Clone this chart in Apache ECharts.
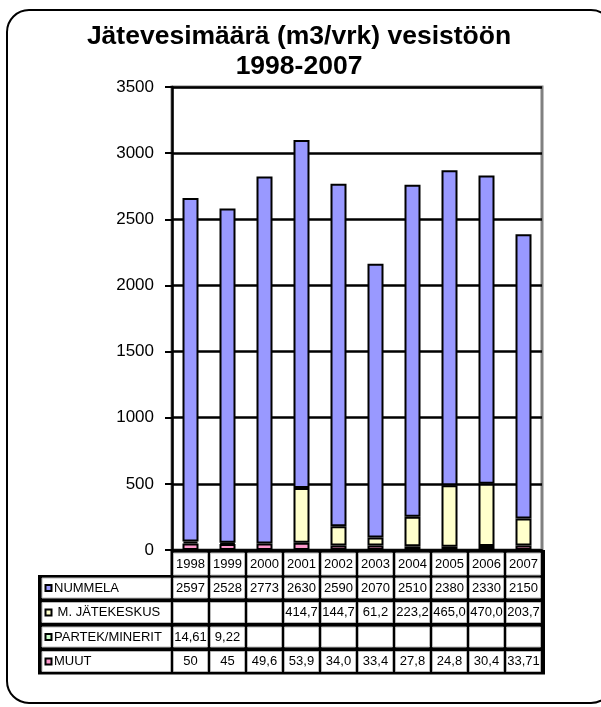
<!DOCTYPE html>
<html>
<head>
<meta charset="utf-8">
<script src="https://cdn.jsdelivr.net/npm/echarts@6/dist/echarts.min.js"></script>
<style>
html,body{margin:0;padding:0;background:#fff;}
#main{width:601px;height:707px;}
</style>
</head>
<body>
<div id="main"></div>
<script>
// ---- data (as shown in the data table) ----
const years = ['1998','1999','2000','2001','2002','2003','2004','2005','2006','2007'];
const nummelaText    = ['2597','2528','2773','2630','2590','2070','2510','2380','2330','2150'];
const jatekeskusText = ['','','','414,7','144,7','61,2','223,2','465,0','470,0','203,7'];
const partekText     = ['14,61','9,22','','','','','','','',''];
const muutText       = ['50','45','49,6','53,9','34,0','33,4','27,8','24,8','30,4','33,71'];
const yTicks = { min: 0, max: 3500, interval: 500 };
const seriesNames = ['NUMMELA', 'M. JÄTEKESKUS', 'PARTEK/MINERIT', 'MUUT'];
const colors = { 'NUMMELA': '#9999FF', 'M. JÄTEKESKUS': '#FFFFCC', 'PARTEK/MINERIT': '#CCFFCC', 'MUUT': '#FF99CC' };
const titleText = 'Jätevesimäärä (m3/vrk) vesistöön\n1998-2007';

const toNum = s => s === '' ? null : parseFloat(s.replace(',', '.'));
const rowsText = { 'NUMMELA': nummelaText, 'M. JÄTEKESKUS': jatekeskusText, 'PARTEK/MINERIT': partekText, 'MUUT': muutText };
const stackOrder = ['MUUT', 'PARTEK/MINERIT', 'M. JÄTEKESKUS', 'NUMMELA'];

const FONT = 'Liberation Sans, Arial, sans-serif';
const chart = echarts.init(document.getElementById('main'), null, { renderer: 'canvas' });

const option = {
  animation: false,
  backgroundColor: '#fff',
  title: {
    text: titleText, left: 299, top: 22, textAlign: 'center', padding: 0,
    textStyle: { fontFamily: FONT, fontSize: 26.5, fontWeight: 'bold', color: '#000', lineHeight: 30 }
  },
  grid: { left: 172, right: 59, top: 87, bottom: 157, show: true, borderColor: '#808080', borderWidth: 3, backgroundColor: 'transparent' },
  xAxis: {
    type: 'category', data: years,
    axisLine: { lineStyle: { color: '#000', width: 2.5 } },
    axisTick: { show: false }, axisLabel: { show: false }
  },
  yAxis: {
    type: 'value', min: yTicks.min, max: yTicks.max, interval: yTicks.interval,
    axisLine: { show: true, lineStyle: { color: '#000', width: 2.5 } },
    axisTick: { show: true, length: 7, lineStyle: { color: '#000', width: 2 } },
    axisLabel: { fontFamily: FONT, fontSize: 17, color: '#000', margin: 18, formatter: v => String(v) },
    splitLine: { show: true, lineStyle: { color: '#000', width: 2.5 } }
  },
  series: stackOrder.map(name => ({
    name, type: 'bar', stack: 'total', barWidth: 16,
    data: rowsText[name].map(toNum),
    itemStyle: { color: colors[name], borderColor: '#000', borderWidth: 2 }
  }))
};
chart.setOption(option);

// ---- data table beneath the plot, aligned to the category axis ----
const c0 = chart.convertToPixel({ xAxisIndex: 0 }, 0);
const c1 = chart.convertToPixel({ xAxisIndex: 0 }, 1);
const colW = c1 - c0;
const axisX = c0 - colW / 2;
const rightX = axisX + colW * years.length;
const zeroY = chart.convertToPixel({ yAxisIndex: 0 }, 0);

const g = [];
const gap = 3;
const headTop = zeroY + 3, headBot = zeroY + 25;
const rowTops = [zeroY + 28, zeroY + 52.5, zeroY + 77, zeroY + 101.5];
const rowH = 20;
const tableLeft = 38;

// black backgrounds
g.push({ type: 'rect', shape: { x: axisX - 1.5, y: zeroY, width: rightX - axisX + 4.5, height: headBot - zeroY + 3 }, style: { fill: '#000' }, z: 10 });
g.push({ type: 'rect', shape: { x: tableLeft, y: rowTops[0] - 3, width: rightX + 3 - tableLeft, height: rowTops[3] + rowH + 3 - (rowTops[0] - 3) }, style: { fill: '#000' }, z: 10 });

const cellStyle = { fill: '#fff', stroke: '#b8b8b8', lineWidth: 1 };
// header cells
years.forEach((y, i) => {
  const cx = axisX + colW * i;
  g.push({ type: 'rect', shape: { x: cx + 1.5, y: headTop, width: colW - gap, height: headBot - headTop }, style: cellStyle, z: 11 });
  g.push({ type: 'text', x: cx + colW / 2, y: (headTop + headBot) / 2, style: { text: y, fontFamily: FONT, fontSize: 13, fill: '#000', textAlign: 'center', textVerticalAlign: 'middle' }, z: 12 });
});
// data rows
seriesNames.forEach((name, r) => {
  const top = rowTops[r];
  g.push({ type: 'rect', shape: { x: tableLeft + 4, y: top, width: axisX - 1.5 - (tableLeft + 4), height: rowH }, style: cellStyle, z: 11 });
  g.push({ type: 'rect', shape: { x: 45.5, y: top + 7, width: 6, height: 6 }, style: { fill: colors[name], stroke: '#000', lineWidth: 2 }, z: 12 });
  g.push({ type: 'text', x: 54, y: top + rowH / 2, style: { text: (name === 'M. JÄTEKESKUS' ? ' ' : '') + name, fontFamily: FONT, fontSize: 13, fill: '#000', textAlign: 'left', textVerticalAlign: 'middle' }, z: 12 });
  rowsText[name].forEach((v, i) => {
    const cx = axisX + colW * i;
    g.push({ type: 'rect', shape: { x: cx + 1.5, y: top, width: colW - gap, height: rowH }, style: cellStyle, z: 11 });
    if (v !== '') {
      g.push({ type: 'text', x: cx + colW / 2, y: top + rowH / 2, style: { text: v, fontFamily: FONT, fontSize: 13, fill: '#000', textAlign: 'center', textVerticalAlign: 'middle' }, z: 12 });
    }
  });
});
// outer rounded frame
g.push({ type: 'rect', shape: { x: 7, y: 10, width: 606, height: 693, r: 22 }, style: { fill: 'none', stroke: '#000', lineWidth: 2 }, z: 20 });

chart.setOption({ graphic: g });
</script>
</body>
</html>
